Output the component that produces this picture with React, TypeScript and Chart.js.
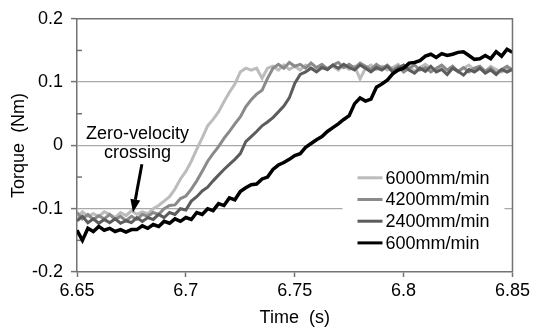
import { useEffect, useRef } from "react";
import { Chart, registerables } from "chart.js";

Chart.register(...registerables);

// ---- data ----
const timeS = [
  6.65, 6.6525, 6.655, 6.6575, 6.66, 6.6625, 6.665, 6.6675, 6.67, 6.6725,
  6.675, 6.6775, 6.68, 6.6825, 6.685, 6.6875, 6.69, 6.6925, 6.695, 6.6975,
  6.7, 6.7025, 6.705, 6.7075, 6.71, 6.7125, 6.715, 6.7175, 6.72, 6.7225,
  6.725, 6.7275, 6.73, 6.7325, 6.735, 6.7375, 6.74, 6.7425, 6.745, 6.7475,
  6.75, 6.7525, 6.755, 6.7575, 6.76, 6.7625, 6.765, 6.7675, 6.77, 6.7725,
  6.775, 6.7775, 6.78, 6.7825, 6.785, 6.7875, 6.79, 6.7925, 6.795, 6.7975,
  6.8, 6.8025, 6.805, 6.8075, 6.81, 6.8125, 6.815, 6.8175, 6.82, 6.8225,
  6.825, 6.8275, 6.83, 6.8325, 6.835, 6.8375, 6.84, 6.8425, 6.845, 6.8475,
  6.85,
];

const torque6000 = [
  -0.114, -0.105, -0.112, -0.108, -0.112, -0.105, -0.109, -0.114, -0.106, -0.111,
  -0.103, -0.109, -0.105, -0.108, -0.1, -0.095, -0.088, -0.081, -0.069, -0.053,
  -0.041, -0.025, -0.006, 0.012, 0.031, 0.041, 0.053, 0.069, 0.084, 0.097,
  0.116, 0.122, 0.119, 0.122, 0.106, 0.122, 0.125, 0.119, 0.127, 0.12,
  0.125, 0.119, 0.127, 0.122, 0.12, 0.127, 0.122, 0.125, 0.119, 0.127,
  0.12, 0.125, 0.105, 0.122, 0.127, 0.12, 0.125, 0.119, 0.123, 0.128,
  0.12, 0.125, 0.117, 0.123, 0.128, 0.122, 0.117, 0.125, 0.119, 0.123,
  0.116, 0.122, 0.127, 0.119, 0.123, 0.117, 0.125, 0.12, 0.116, 0.122,
  0.119,
];

const torque4200 = [
  -0.106, -0.116, -0.109, -0.117, -0.111, -0.116, -0.109, -0.117, -0.112, -0.119,
  -0.112, -0.117, -0.109, -0.112, -0.106, -0.109, -0.1, -0.095, -0.094, -0.084,
  -0.08, -0.069, -0.056, -0.041, -0.025, -0.013, -0.002, 0.011, 0.022, 0.034,
  0.045, 0.061, 0.072, 0.081, 0.087, 0.106, 0.122, 0.128, 0.122, 0.131,
  0.125, 0.128, 0.122, 0.13, 0.123, 0.128, 0.12, 0.127, 0.131, 0.123,
  0.128, 0.122, 0.13, 0.125, 0.12, 0.128, 0.122, 0.127, 0.119, 0.125,
  0.116, 0.122, 0.127, 0.119, 0.123, 0.116, 0.122, 0.127, 0.119, 0.125,
  0.117, 0.123, 0.116, 0.122, 0.125, 0.117, 0.122, 0.114, 0.12, 0.125,
  0.119,
];

const torque2400 = [
  -0.119, -0.112, -0.122, -0.116, -0.123, -0.117, -0.122, -0.116, -0.123, -0.119,
  -0.122, -0.114, -0.12, -0.114, -0.117, -0.109, -0.114, -0.106, -0.109, -0.1,
  -0.102, -0.088, -0.081, -0.072, -0.066, -0.056, -0.047, -0.038, -0.03, -0.022,
  -0.013, 0.006, 0.014, 0.022, 0.031, 0.037, 0.044, 0.053, 0.062, 0.075,
  0.098, 0.112, 0.116, 0.122, 0.116, 0.123, 0.12, 0.127, 0.122, 0.128,
  0.123, 0.119, 0.127, 0.122, 0.116, 0.123, 0.119, 0.125, 0.116, 0.122,
  0.127, 0.119, 0.114, 0.122, 0.117, 0.125, 0.116, 0.12, 0.112, 0.122,
  0.117, 0.111, 0.12, 0.116, 0.122, 0.114, 0.119, 0.112, 0.12, 0.116,
  0.12,
];

const torque600 = [
  -0.134, -0.15, -0.131, -0.136, -0.128, -0.134, -0.131, -0.136, -0.133, -0.137,
  -0.133, -0.133, -0.127, -0.131, -0.125, -0.128, -0.12, -0.123, -0.116, -0.12,
  -0.114, -0.117, -0.106, -0.109, -0.1, -0.103, -0.092, -0.095, -0.083, -0.086,
  -0.073, -0.067, -0.062, -0.061, -0.053, -0.05, -0.038, -0.031, -0.027, -0.022,
  -0.016, -0.013, -0.003, 0.003, 0.009, 0.014, 0.022, 0.028, 0.034, 0.041,
  0.047, 0.066, 0.075, 0.07, 0.073, 0.092, 0.097, 0.103, 0.113, 0.119,
  0.122, 0.13, 0.131, 0.134, 0.141, 0.144, 0.139, 0.145, 0.142, 0.144,
  0.147, 0.148, 0.142, 0.136, 0.137, 0.142, 0.137, 0.148, 0.141, 0.152,
  0.147,
];

const seriesLabels = ["6000mm/min", "4200mm/min", "2400mm/min", "600mm/min"];
const seriesValues = [torque6000, torque4200, torque2400, torque600];

const xTicks = [6.65, 6.7, 6.75, 6.8, 6.85];
const xTickLabels = ["6.65", "6.7", "6.75", "6.8", "6.85"];
const yTicks = [-0.2, -0.1, 0, 0.1, 0.2];
const yTickLabels = ["-0.2", "-0.1", "0", "0.1", "0.2"];
const yMinorTicks = [-0.15, -0.05, 0.05, 0.15];

const annotationLines = ["Zero-velocity", "crossing"];

// ---- styles ----
const seriesColors = ["#bcbcbc", "#8a8a8a", "#5c5c5c", "#000000"];
const seriesWidths = [3, 3, 3, 3.5];
const FONT_FAMILY = '"Liberation Sans", Arial, sans-serif';
const AXIS_COLOR = "#737373";
const GRID_COLOR = "#a8a8a8";
const TEXT_COLOR = "#000000";

const App = () => {
  const ref = useRef<HTMLCanvasElement>(null);

  useEffect(() => {
    if (!ref.current) return;

    const overlay = {
      id: "overlay",
      beforeDatasetsDraw(chart: any) {
        const { ctx, chartArea, scales } = chart;
        const ys = scales.y;
        ctx.save();
        ctx.strokeStyle = AXIS_COLOR;
        ctx.lineWidth = 1.5;
        yMinorTicks.forEach((v) => {
          const py = ys.getPixelForValue(v);
          ctx.beginPath();
          ctx.moveTo(chartArea.left, py);
          ctx.lineTo(chartArea.left + 5, py);
          ctx.stroke();
        });
        ctx.restore();
      },
      afterDatasetsDraw(chart: any) {
        const { ctx, chartArea, scales } = chart;
        const xs = scales.x;
        const ys = scales.y;
        ctx.save();
        // legend
        const r = chartArea.right;
        const t = chartArea.top;
        ctx.fillStyle = "#ffffff";
        ctx.fillRect(r - 170, t + 147, 162, 90);
        ctx.font = `18px ${FONT_FAMILY}`;
        ctx.textBaseline = "middle";
        ctx.textAlign = "left";
        chart.data.datasets.forEach((ds: any, i: number) => {
          const cy = t + 159 + i * 21.7;
          ctx.strokeStyle = ds.borderColor;
          ctx.lineWidth = 3;
          ctx.beginPath();
          ctx.moveTo(r - 155, cy);
          ctx.lineTo(r - 130, cy);
          ctx.stroke();
          ctx.fillStyle = TEXT_COLOR;
          ctx.fillText(ds.label, r - 127, cy + 1);
        });
        // annotation text
        ctx.textAlign = "center";
        ctx.textBaseline = "alphabetic";
        ctx.fillStyle = TEXT_COLOR;
        const tx = xs.getPixelForValue(6.6778);
        ctx.fillText(annotationLines[0], tx, ys.getPixelForValue(0.0109));
        ctx.fillText(annotationLines[1], tx, ys.getPixelForValue(-0.0203));
        // arrow
        const x0 = xs.getPixelForValue(6.6798);
        const y0 = ys.getPixelForValue(-0.0297);
        const x1 = xs.getPixelForValue(6.6757);
        const y1 = ys.getPixelForValue(-0.106);
        const ang = Math.atan2(y1 - y0, x1 - x0);
        const headLen = 13;
        const headW = 5;
        const bx = x1 - headLen * Math.cos(ang);
        const by = y1 - headLen * Math.sin(ang);
        ctx.strokeStyle = "#000";
        ctx.fillStyle = "#000";
        ctx.lineWidth = 3;
        ctx.beginPath();
        ctx.moveTo(x0, y0);
        ctx.lineTo(bx, by);
        ctx.stroke();
        ctx.beginPath();
        ctx.moveTo(x1, y1);
        ctx.lineTo(bx + headW * Math.sin(ang), by - headW * Math.cos(ang));
        ctx.lineTo(bx - headW * Math.sin(ang), by + headW * Math.cos(ang));
        ctx.closePath();
        ctx.fill();
        // top & right border
        ctx.strokeStyle = AXIS_COLOR;
        ctx.lineWidth = 1.5;
        ctx.beginPath();
        ctx.moveTo(chartArea.left, chartArea.top);
        ctx.lineTo(chartArea.right, chartArea.top);
        ctx.lineTo(chartArea.right, chartArea.bottom);
        ctx.stroke();
        ctx.restore();
      },
    };

    const font = { family: FONT_FAMILY, size: 18 };

    const chart = new Chart(ref.current, {
      type: "line",
      data: {
        datasets: seriesLabels.map((label, i) => ({
          label,
          data: timeS.map((t, j) => ({ x: t, y: seriesValues[i][j] })),
          borderColor: seriesColors[i],
          backgroundColor: seriesColors[i],
          borderWidth: seriesWidths[i],
          pointRadius: 0,
          tension: 0,
          fill: false,
          order: seriesLabels.length - 1 - i,
        })),
      },
      options: {
        animation: false,
        responsive: true,
        maintainAspectRatio: false,
        layout: { padding: { top: 16, right: 20, left: 0, bottom: 0 } },
        plugins: { legend: { display: false }, tooltip: { enabled: false } },
        scales: {
          x: {
            type: "linear",
            min: 6.65,
            max: 6.85,
            afterBuildTicks: (s: any) => {
              s.ticks = xTicks.map((v) => ({ value: v }));
            },
            afterFit: (s: any) => {
              s.height = 61;
            },
            ticks: {
              callback: (_v: any, i: number) => xTickLabels[i],
              font,
              color: TEXT_COLOR,
              padding: 3,
              maxRotation: 0,
              autoSkip: false,
            },
            grid: {
              drawOnChartArea: false,
              drawTicks: true,
              tickLength: 5,
              tickColor: AXIS_COLOR,
              tickWidth: 1.5,
            },
            border: { color: AXIS_COLOR, width: 1.5 },
            title: {
              display: true,
              text: "Time  (s)",
              font,
              color: TEXT_COLOR,
              padding: { top: 0, bottom: 4 },
            },
          },
          y: {
            type: "linear",
            min: -0.2,
            max: 0.2,
            afterBuildTicks: (s: any) => {
              s.ticks = yTicks.map((v) => ({ value: v }));
            },
            afterFit: (s: any) => {
              s.width = 77;
            },
            ticks: {
              callback: (_v: any, i: number) => yTickLabels[i],
              font,
              color: TEXT_COLOR,
              padding: 8,
              autoSkip: false,
            },
            grid: {
              color: (c: any) =>
                c.tick && Math.abs(c.tick.value) < 0.15 ? GRID_COLOR : "rgba(0,0,0,0)",
              lineWidth: 1.2,
              tickLength: 6,
              tickColor: AXIS_COLOR,
              tickWidth: 1.5,
            },
            border: { color: AXIS_COLOR, width: 1.5 },
            title: {
              display: true,
              text: "Torque  (Nm)",
              font,
              color: TEXT_COLOR,
              padding: { top: 8, bottom: 0 },
            },
          },
        },
      },
      plugins: [overlay],
    });

    return () => chart.destroy();
  }, []);

  return (
    <div style={{ position: "absolute", left: 0, top: 0, width: 533, height: 333 }}>
      <canvas ref={ref} />
    </div>
  );
};

export default App;
